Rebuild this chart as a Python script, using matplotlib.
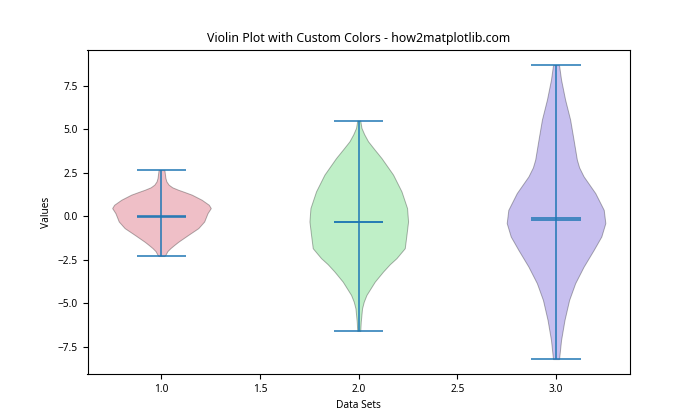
import matplotlib
matplotlib.use("Agg")
import matplotlib.pyplot as plt

plt.rcParams['font.family'] = ['Noto Sans', 'DejaVu Sans']

positions = [1, 2, 3]
colors = ['#CD2D48', '#2DCD48', '#482DCD']

# density profiles (value -> relative half width)
coords1 = [-2.28, -2.21, -2.00, -1.83, -1.64, -1.45, -1.06, -0.68, -0.30, 0.18, 0.47, 0.66, 0.95, 1.24, 1.40, 1.52, 1.66, 1.81, 2.00, 2.20, 2.63, 2.65]
dens1 = [3, 4, 6, 9, 13, 17.3, 27.3, 37.3, 43.3, 46.7, 50, 48, 40.7, 30.7, 23, 17, 11, 7.3, 5, 4, 3, 3]
coords2 = [-6.58, -6.05, -5.28, -4.90, -4.51, -3.75, -3.17, -2.75, -2.40, -1.83, -1.06, -0.30, 0.47, 1.43, 2.39, 3.34, 3.85, 4.30, 4.70, 5.07, 5.49]
dens2 = [1.5, 2, 3.3, 5, 7.7, 16, 24.3, 31, 37.7, 46, 47.7, 49.3, 48.3, 42.7, 34.3, 22.7, 15.5, 9.3, 5.5, 2.7, 1.5]
coords3 = [-8.19, -7.10, -5.95, -4.80, -3.84, -2.89, -1.93, -1.16, -0.39, 0.37, 1.33, 2.29, 2.80, 3.25, 4.40, 5.55, 6.70, 7.84, 8.67]
dens3 = [3, 5, 8.4, 13, 19, 27.4, 37.4, 45, 49, 47.4, 39, 27.4, 23, 20.7, 17.4, 14, 9, 5, 3]

means = [-0.02, -0.30, -0.10]
medians = [0.01, -0.33, -0.24]
mins = [-2.28, -6.58, -8.19]
maxs = [2.65, 5.49, 8.67]

vpstats = []
for c, d, mu, md, lo, hi in zip([coords1, coords2, coords3], [dens1, dens2, dens3],
                                means, medians, mins, maxs):
    vpstats.append(dict(coords=c, vals=d, mean=mu, median=md, min=lo, max=hi))

fig, ax = plt.subplots(figsize=(7, 4.2), dpi=100)
parts = ax.violin(vpstats, positions=positions, widths=0.5,
                  showmeans=True, showmedians=True, showextrema=True)
for pc, col in zip(parts['bodies'], colors):
    pc.set_facecolor(col)
    pc.set_edgecolor('black')
    pc.set_linewidth(0.7)
    pc.set_alpha(0.3)
for key in ['cbars', 'cmins', 'cmaxes', 'cmeans', 'cmedians']:
    parts[key].set_linewidth(1.1)
    parts[key].set_color('#1f77b4')

ax.set_title('Violin Plot with Custom Colors - how2matplotlib.com', fontsize=8.9)
ax.set_xlabel('Data Sets', fontsize=7.3)
ax.set_ylabel('Values', fontsize=7.3)
ax.tick_params(labelsize=7.3)
fig.savefig('out.png', dpi=100)
